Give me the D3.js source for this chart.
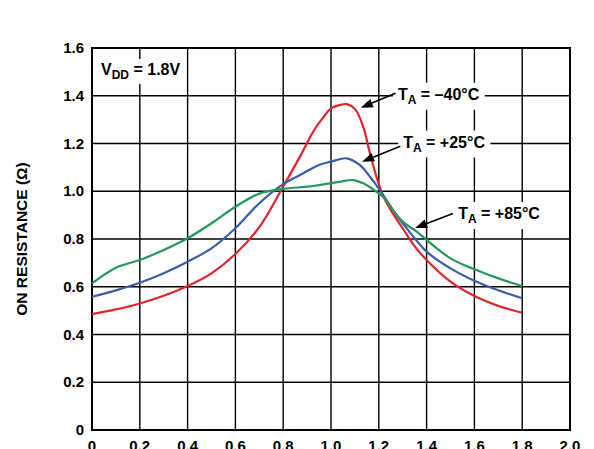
<!DOCTYPE html>
<html>
<head>
<meta charset="utf-8">
<script src="https://cdn.jsdelivr.net/npm/d3@7"></script>
<style>
  body { margin: 0; background: #fff; }
  svg { display: block; }
  text { font-family: "Liberation Sans", Arial, sans-serif; font-weight: bold; fill: #000; }
</style>
</head>
<body>
<svg width="594" height="449"></svg>
<script>
// values
const xTicks = [0, 0.2, 0.4, 0.6, 0.8, 1.0, 1.2, 1.4, 1.6, 1.8, 2.0];
const xTickLabels = ["0", "0.2", "0.4", "0.6", "0.8", "1.0", "1.2", "1.4", "1.6", "1.8", "2.0"];
const yTicks = [0, 0.2, 0.4, 0.6, 0.8, 1.0, 1.2, 1.4, 1.6];
const yTickLabels = ["0", "0.2", "0.4", "0.6", "0.8", "1.0", "1.2", "1.4", "1.6"];

const vdd = [0, 0.1, 0.2, 0.3, 0.4, 0.5, 0.6, 0.7, 0.8, 0.87, 0.93, 0.97, 1.0, 1.04, 1.066, 1.1, 1.135, 1.163, 1.19, 1.22, 1.26, 1.3, 1.35, 1.4, 1.5, 1.6, 1.7, 1.8];
const ronCold = [0.485, 0.505, 0.53, 0.562, 0.603, 0.656, 0.737, 0.85, 1.02, 1.145, 1.257, 1.312, 1.347, 1.362, 1.365, 1.345, 1.27, 1.159, 1.061, 0.977, 0.905, 0.845, 0.77, 0.712, 0.621, 0.561, 0.52, 0.491];

const vddRoom = [0, 0.1, 0.2, 0.3, 0.4, 0.5, 0.6, 0.7, 0.8, 0.87, 0.95, 1.0, 1.066, 1.12, 1.163, 1.205, 1.26, 1.3, 1.4, 1.5, 1.6, 1.7, 1.8];
const ronRoom = [0.558, 0.585, 0.617, 0.657, 0.705, 0.761, 0.845, 0.95, 1.03, 1.068, 1.11, 1.124, 1.138, 1.11, 1.061, 1.005, 0.92, 0.866, 0.747, 0.677, 0.625, 0.585, 0.552];

const vddHot = [0, 0.1, 0.2, 0.3, 0.4, 0.5, 0.6, 0.7, 0.8, 0.9, 0.95, 1.04, 1.09, 1.135, 1.18, 1.22, 1.26, 1.3, 1.36, 1.4, 1.5, 1.6, 1.7, 1.8];
const ronHot = [0.614, 0.68, 0.712, 0.754, 0.803, 0.866, 0.935, 0.99, 1.01, 1.019, 1.026, 1.04, 1.047, 1.033, 1.005, 0.975, 0.92, 0.873, 0.83, 0.796, 0.719, 0.673, 0.635, 0.603];

const series = [
  { name: "-40", x: vdd, y: ronCold, color: "#e2232e" },
  { name: "+25", x: vddRoom, y: ronRoom, color: "#3b5ca6" },
  { name: "+85", x: vddHot, y: ronHot, color: "#24995c" }
];

// label text start, arrow tail/tip in data units
const notes = [
  { temp: "\u201340\u00B0C", tx: 1.28, ty: 1.4, ax: 1.27, ay: 1.41, px: 1.125, py: 1.35 },
  { temp: "+25\u00B0C", tx: 1.302, ty: 1.2, ax: 1.29, ay: 1.188, px: 1.13, py: 1.124 },
  { temp: "+85\u00B0C", tx: 1.532, ty: 0.9, ax: 1.51, ay: 0.907, px: 1.352, py: 0.846 }
];

const svg = d3.select("svg");
const margin = { left: 92, right: 24, top: 48, bottom: 19 };
const width = 594, height = 449;

const x = d3.scaleLinear().domain([0, 2]).range([margin.left, width - margin.right]);
const y = d3.scaleLinear().domain([0, 1.6]).range([height - margin.bottom, margin.top]);

// grid
const grid = svg.append("g");
grid.selectAll("line.v")
  .data(xTicks)
  .join("line")
  .attr("x1", d => x(d)).attr("x2", d => x(d))
  .attr("y1", y(0)).attr("y2", y(1.6))
  .attr("stroke", "#000").attr("stroke-width", 1.4);
grid.selectAll("line.h")
  .data(yTicks)
  .join("line")
  .attr("y1", d => y(d)).attr("y2", d => y(d))
  .attr("x1", x(0)).attr("x2", x(2))
  .attr("stroke", "#000").attr("stroke-width", 1.4);

svg.append("rect")
  .attr("x", x(0)).attr("y", y(1.6))
  .attr("width", x(2) - x(0)).attr("height", y(0) - y(1.6))
  .attr("fill", "none").attr("stroke", "#000").attr("stroke-width", 2);

// tick labels
svg.append("g").selectAll("text")
  .data(yTicks)
  .join("text")
  .attr("x", 84)
  .attr("y", d => y(d) + 5)
  .attr("text-anchor", "end")
  .attr("font-size", 15)
  .text((d, i) => yTickLabels[i]);

svg.append("g").selectAll("text")
  .data(xTicks)
  .join("text")
  .attr("x", d => x(d))
  .attr("y", 451)
  .attr("text-anchor", "middle")
  .attr("font-size", 15)
  .text((d, i) => xTickLabels[i]);

svg.append("text")
  .attr("transform", `translate(27,${(y(0) + y(1.6)) / 2}) rotate(-90)`)
  .attr("text-anchor", "middle")
  .attr("font-size", 15.5)
  .text("ON RESISTANCE (\u03A9)");

// curves
const line = d3.line()
  .x(d => x(d[0]))
  .y(d => y(d[1]))
  .curve(d3.curveCatmullRom.alpha(0.5));

svg.append("g").selectAll("path")
  .data(series)
  .join("path")
  .attr("d", s => line(s.x.map((v, i) => [v, s.y[i]])))
  .attr("fill", "none")
  .attr("stroke", s => s.color)
  .attr("stroke-width", 2.2)
  .attr("stroke-linejoin", "round");

// boxed label helper
function boxed(g, pad) {
  const b = g.node().getBBox();
  g.insert("rect", ":first-child")
    .attr("x", b.x - pad[0]).attr("y", b.y - pad[1])
    .attr("width", b.width + pad[0] * 2).attr("height", b.height + pad[1] * 2)
    .attr("fill", "#fff");
}

const vg = svg.append("g");
const vt = vg.append("text").attr("x", 101).attr("y", 75).attr("font-size", 16);
vt.append("tspan").text("V");
vt.append("tspan").attr("font-size", 12).attr("dy", 4).text("DD");
vt.append("tspan").attr("dy", -4).text(" = 1.8V");
boxed(vg, [3, 2]);

// annotations
const ann = svg.append("g");
notes.forEach(n => {
  const g = ann.append("g");
  const t = g.append("text")
    .attr("x", x(n.tx)).attr("y", y(n.ty) + 4)
    .attr("font-size", 16);
  t.append("tspan").text("T");
  t.append("tspan").attr("font-size", 12).attr("dy", 4).text("A");
  t.append("tspan").attr("dy", -4).text(" = " + n.temp);
  boxed(g, [5, 3]);

  const x1 = x(n.ax), y1 = y(n.ay), x2 = x(n.px), y2 = y(n.py);
  const ang = Math.atan2(y2 - y1, x2 - x1);
  const len = 12, half = 4.5;
  const bx = x2 - len * Math.cos(ang), by = y2 - len * Math.sin(ang);
  g.append("line")
    .attr("x1", x1).attr("y1", y1).attr("x2", bx).attr("y2", by)
    .attr("stroke", "#000").attr("stroke-width", 1.6);
  g.append("path")
    .attr("d", `M${x2},${y2}L${bx + half * Math.sin(ang)},${by - half * Math.cos(ang)}L${bx - half * Math.sin(ang)},${by + half * Math.cos(ang)}Z`)
    .attr("fill", "#000");
});
</script>
</body>
</html>
